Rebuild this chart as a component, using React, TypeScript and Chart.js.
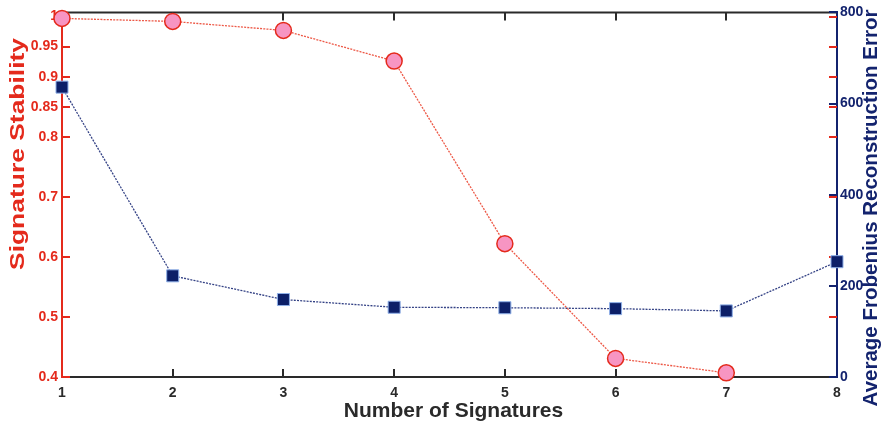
import { useEffect, useRef } from 'react';
import { Chart, registerables } from 'chart.js';

Chart.register(...registerables);

// ---- data ----
const signatures = [1, 2, 3, 4, 5, 6, 7, 8];
const stability = [0.997, 0.992, 0.977, 0.926, 0.622, 0.431, 0.407]; // no value at 8
const reconError = [636, 222, 170, 153, 152, 150, 145, 253];
const stabilityTicks = [0.4, 0.5, 0.6, 0.7, 0.8, 0.85, 0.9, 0.95, 1];
const errorTicks = [0, 200, 400, 600, 800];
const xTicks = [1, 2, 3, 4, 5, 6, 7, 8];

const xTitle = 'Number of Signatures';
const leftTitle = 'Signature Stability';
const rightTitle = 'Average Frobenius Reconstruction Error';

const RED = '#E42A1C';
const NAVY = '#13236E';
const AXIS = '#2A2A2A';
const FONT = "'Liberation Sans', Arial, Helvetica, sans-serif";

function drawRotated(ctx: any, text: string, cx: number, cy: number, color: string, size: number, length?: number) {
  ctx.save();
  ctx.translate(cx, cy);
  ctx.rotate(-Math.PI / 2);
  ctx.fillStyle = color;
  ctx.font = `bold ${size}px ${FONT}`;
  ctx.textAlign = 'center';
  ctx.textBaseline = 'middle';
  if (length) {
    const w = ctx.measureText(text).width;
    ctx.scale(length / w, 1);
  }
  ctx.fillText(text, 0, 0);
  ctx.restore();
}

const framePlugin = {
  id: 'frame',
  beforeDatasetsDraw(chart: any) {
    const { ctx, chartArea, scales } = chart;
    const { left, right, top, bottom } = chartArea;
    const x = scales.x, y = scales.y, y1 = scales.y1;
    ctx.save();
    ctx.lineWidth = 2;
    ctx.strokeStyle = AXIS;
    ctx.beginPath();
    ctx.moveTo(left, top);
    ctx.lineTo(right, top);
    ctx.stroke();
    xTicks.forEach((v) => {
      if (v === xTicks[0] || v === xTicks[xTicks.length - 1]) return;
      const px = Math.round(x.getPixelForValue(v));
      ctx.beginPath();
      ctx.moveTo(px, bottom);
      ctx.lineTo(px, bottom - 8);
      ctx.moveTo(px, top);
      ctx.lineTo(px, top + 8);
      ctx.stroke();
    });
    ctx.strokeStyle = RED;
    stabilityTicks.forEach((v) => {
      const py = Math.round(y.getPixelForValue(v));
      ctx.beginPath();
      ctx.moveTo(left, py);
      ctx.lineTo(left + 8, py);
      ctx.moveTo(right - 8, py);
      ctx.lineTo(right, py);
      ctx.stroke();
    });
    ctx.strokeStyle = NAVY;
    errorTicks.forEach((v) => {
      const py = Math.round(y1.getPixelForValue(v));
      ctx.beginPath();
      ctx.moveTo(right - 8, py);
      ctx.lineTo(right, py);
      ctx.stroke();
    });
    ctx.restore();
  },
  afterDraw(chart: any) {
    const { ctx, chartArea } = chart;
    const { left, right } = chartArea;
    ctx.save();
    ctx.textAlign = 'center';
    ctx.textBaseline = 'middle';
    ctx.fillStyle = AXIS;
    ctx.font = `bold 21px ${FONT}`;
    ctx.fillText(xTitle, (left + right) / 2 + 4, 411);
    ctx.restore();
    drawRotated(ctx, leftTitle, 18, 154, RED, 20, 232);
    drawRotated(ctx, rightTitle, 871, 208, NAVY, 20.5);
  },
};

export default function App() {
  const ref = useRef<HTMLCanvasElement | null>(null);
  useEffect(() => {
    if (!ref.current) return;
    const tickFont = { family: FONT, weight: 'bold', size: 14 };
    const chart = new Chart(ref.current, {
      type: 'line',
      data: {
        datasets: [
          {
            label: leftTitle,
            data: stability.map((v, i) => ({ x: signatures[i], y: v })),
            yAxisID: 'y',
            borderColor: 'rgba(235,70,50,0.9)',
            borderWidth: 1.3,
            borderDash: [2, 1.2],
            pointStyle: 'circle',
            pointRadius: 8,
            pointBackgroundColor: '#F795C2',
            pointBorderColor: RED,
            pointBorderWidth: 1.5,
            clip: false,
          } as any,
          {
            label: rightTitle,
            data: reconError.map((v, i) => ({ x: signatures[i], y: v })),
            yAxisID: 'y1',
            borderColor: 'rgba(30,45,120,0.9)',
            borderWidth: 1.3,
            borderDash: [2, 1.2],
            pointStyle: 'rect',
            pointRadius: 8.5,
            pointBackgroundColor: '#0C1F68',
            pointBorderColor: '#8FB0E8',
            pointBorderWidth: 1,
            clip: false,
          } as any,
        ],
      },
      options: {
        responsive: false,
        animation: false,
        layout: { padding: { top: 12, left: 0, right: 0, bottom: 0 } },
        plugins: { legend: { display: false }, tooltip: { enabled: false } },
        scales: {
          x: {
            type: 'linear',
            min: 1,
            max: 8,
            grid: { display: false, drawTicks: false },
            border: { display: true, color: AXIS, width: 2 },
            ticks: { stepSize: 1, padding: 8, color: AXIS, font: tickFont },
            afterBuildTicks: (s: any) => {
              s.ticks = xTicks.map((v) => ({ value: v }));
            },
            afterFit: (s: any) => {
              s.height = 50;
            },
          },
          y: {
            type: 'linear',
            position: 'left',
            min: 0.4,
            max: 1.007,
            grid: { display: false, drawTicks: false },
            border: { display: true, color: RED, width: 2 },
            ticks: { padding: 4, color: RED, font: tickFont, callback: (v: any) => String(v) },
            afterBuildTicks: (s: any) => {
              s.ticks = stabilityTicks.map((v) => ({ value: v }));
            },
            afterFit: (s: any) => {
              s.width = 62;
            },
          },
          y1: {
            type: 'linear',
            position: 'right',
            min: 0,
            max: 800,
            grid: { display: false, drawTicks: false },
            border: { display: true, color: NAVY, width: 2 },
            ticks: { padding: 3, color: NAVY, font: tickFont },
            afterBuildTicks: (s: any) => {
              s.ticks = errorTicks.map((v) => ({ value: v }));
            },
            afterFit: (s: any) => {
              s.width = 51;
            },
          },
        },
      } as any,
      plugins: [framePlugin],
    });
    return () => chart.destroy();
  }, []);
  return (
    <div style={{ position: 'fixed', left: 0, top: 0, width: 888, height: 427, background: '#fff' }}>
      <canvas ref={ref} width={888} height={427} style={{ display: 'block' }} />
    </div>
  );
}
